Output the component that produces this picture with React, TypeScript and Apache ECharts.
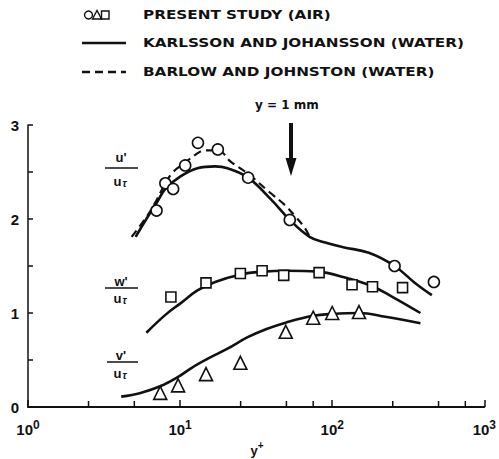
import React, { useEffect, useRef } from "react";
import * as echarts from "echarts";

// ---- data (y+ on log axis, fluctuation ratio on linear axis) ----
const circleX = [7.0, 8.0, 9.0, 10.8, 13.1, 17.7, 28, 52.6, 257, 466];
const circleY = [2.09, 2.38, 2.32, 2.57, 2.81, 2.74, 2.44, 1.99, 1.5, 1.33];

const squareX = [8.7, 14.8, 24.9, 34.6, 48, 82, 135, 184, 290];
const squareY = [1.17, 1.32, 1.42, 1.45, 1.4, 1.43, 1.3, 1.28, 1.27];

const triX = [7.4, 9.7, 14.8, 24.9, 49.5, 75, 100, 150];
const triY = [0.15, 0.23, 0.35, 0.47, 0.8, 0.95, 1.0, 1.01];

const uSolidX = [5.1, 6, 7, 8, 10, 13, 17, 20.5, 28, 40, 52.6, 71, 90, 118, 174, 257, 350, 452];
const uSolidY = [1.81, 2.0, 2.17, 2.32, 2.45, 2.54, 2.56, 2.54, 2.44, 2.2, 1.99, 1.81, 1.75, 1.7, 1.64, 1.5, 1.32, 1.19];

const uDashX = [4.8, 6, 7, 8, 9, 10.8, 12.5, 14.5, 17.7, 21.5, 28, 38.4, 48.7, 57, 65.7, 71];
const uDashY = [1.81, 2.02, 2.2, 2.38, 2.5, 2.6, 2.68, 2.73, 2.73, 2.61, 2.48, 2.29, 2.15, 2.03, 1.91, 1.81];

const wSolidX = [6.0, 8, 10, 13, 17, 25, 35, 50, 80, 120, 180, 250, 380];
const wSolidY = [0.79, 0.98, 1.1, 1.24, 1.33, 1.41, 1.44, 1.45, 1.44, 1.38, 1.29, 1.17, 1.0];

const vSolidX = [4.1, 5.5, 7.4, 9.7, 12, 15.9, 20.5, 27.6, 37, 50, 75, 100, 150, 224, 380];
const vSolidY = [0.11, 0.15, 0.22, 0.32, 0.42, 0.53, 0.62, 0.74, 0.83, 0.9, 0.97, 0.99, 1.0, 0.96, 0.89];

const minorXTicks = [2.5, 5, 25, 50, 75, 250, 500, 750];
const yTickLabels = ["0", "1", "2", "3"];

const legendLabels = [
  "PRESENT STUDY (AIR)",
  "KARLSSON AND JOHANSSON (WATER)",
  "BARLOW AND JOHNSTON (WATER)",
];

const zip = (xs: number[], ys: number[]) => xs.map((x, i) => [x, ys[i]]);

const INK = "#111";
const NUM_FONT = "Liberation Sans";
const TXT_FONT = "DejaVu Sans";

function fraction(top: string, cx: number, yTop: number, yLine: number, yBot: number, x1: number, x2: number) {
  return [
    {
      type: "text",
      x: cx,
      y: yTop,
      style: { text: top, fill: INK, font: `bold 13px "${NUM_FONT}"`, align: "center", verticalAlign: "middle" },
    },
    {
      type: "line",
      shape: { x1, y1: yLine, x2, y2: yLine },
      style: { stroke: INK, lineWidth: 1.5 },
    },
    {
      type: "text",
      x: cx - 1,
      y: yBot,
      style: {
        text: "u{t|τ}",
        fill: INK,
        font: `bold 13px "${NUM_FONT}"`,
        align: "center",
        verticalAlign: "middle",
        rich: { t: { fontSize: 10, fontStyle: "italic", fontWeight: "bold", padding: [5, 0, 0, 1], fill: INK } },
      },
    },
  ];
}

export default function App() {
  const ref = useRef<HTMLDivElement>(null);

  useEffect(() => {
    if (!ref.current) return;
    const chart = echarts.init(ref.current, undefined, { renderer: "svg" });

    const lineCommon = {
      type: "line",
      showSymbol: false,
      smooth: 0.4,
      silent: true,
      z: 2,
    };
    const markerCommon = {
      type: "scatter",
      symbolSize: 11,
      itemStyle: { color: "#ffffff", borderColor: INK, borderWidth: 1.6, opacity: 1 },
      emphasis: { disabled: true },
      z: 5,
    };

    const legendTextStyle = (t: string) => ({
      text: t,
      fill: INK,
      font: `bold 12px "${TXT_FONT}"`,
      verticalAlign: "middle",
    });

    chart.setOption({
      animation: false,
      backgroundColor: "#fff",
      grid: { left: 28, right: 9, top: 125, bottom: 52 },
      xAxis: {
        type: "log",
        logBase: 10,
        min: 1,
        max: 1000,
        axisLine: { lineStyle: { color: INK, width: 2 } },
        axisTick: { inside: true, length: 7, lineStyle: { color: INK, width: 1.5 } },
        splitLine: { show: false },
        axisLabel: {
          margin: 12,
          color: INK,
          fontFamily: NUM_FONT,
          fontSize: 15,
          fontWeight: "bold",
          formatter: (v: number) => `10{s|${Math.round(Math.log10(v))}}`,
          rich: {
            s: { fontSize: 12, fontWeight: "bold", fontFamily: NUM_FONT, color: INK, padding: [0, 0, 9, 0] },
          },
        },
      },
      yAxis: {
        type: "value",
        min: 0,
        max: 3,
        interval: 0.5,
        axisLine: { show: true, lineStyle: { color: INK, width: 1.5 } },
        axisTick: { show: true, inside: true, length: 5, lineStyle: { color: INK, width: 1.5 } },
        splitLine: { show: false },
        axisLabel: {
          margin: 9,
          color: INK,
          fontFamily: NUM_FONT,
          fontSize: 15,
          fontWeight: "bold",
          formatter: (v: number) => (Number.isInteger(v) ? yTickLabels[v] : ""),
        },
      },
      series: [
        { ...lineCommon, data: zip(uSolidX, uSolidY), lineStyle: { color: INK, width: 2.6 } },
        { ...lineCommon, data: zip(uDashX, uDashY), lineStyle: { color: INK, width: 2.2, type: [8, 5] } },
        { ...lineCommon, data: zip(wSolidX, wSolidY), lineStyle: { color: INK, width: 2.6 } },
        { ...lineCommon, data: zip(vSolidX, vSolidY), lineStyle: { color: INK, width: 2.6 } },
        { ...markerCommon, symbol: "circle", data: zip(circleX, circleY) },
        { ...markerCommon, symbol: "rect", symbolSize: 10, data: zip(squareX, squareY) },
        { ...markerCommon, symbol: "triangle", symbolSize: 13, data: zip(triX, triY) },
        {
          type: "custom",
          silent: true,
          clip: false,
          z: 3,
          data: minorXTicks.map((v) => [v, 0]),
          renderItem: (_p: any, api: any) => {
            const pt = api.coord([api.value(0), 0]);
            return {
              type: "line",
              shape: { x1: pt[0], y1: pt[1], x2: pt[0], y2: pt[1] - 6 },
              style: { stroke: INK, lineWidth: 1.5 },
            };
          },
        },
      ],
      graphic: [
        // legend
        { type: "circle", shape: { cx: 88.5, cy: 15, r: 4 }, style: { fill: "#fff", stroke: INK, lineWidth: 1.4 } },
        {
          type: "polygon",
          shape: { points: [[97, 10.5], [92.5, 19], [101.5, 19]] },
          style: { fill: "#fff", stroke: INK, lineWidth: 1.4 },
        },
        { type: "rect", shape: { x: 101.5, y: 11, width: 7.5, height: 8 }, style: { fill: "#fff", stroke: INK, lineWidth: 1.4 } },
        { type: "text", x: 143, y: 15, scaleX: 1.27, style: legendTextStyle(legendLabels[0]) },
        { type: "line", shape: { x1: 82, y1: 43, x2: 126, y2: 43 }, style: { stroke: INK, lineWidth: 2.6 } },
        { type: "text", x: 143, y: 43, scaleX: 1.27, style: legendTextStyle(legendLabels[1]) },
        {
          type: "line",
          shape: { x1: 82, y1: 72, x2: 126, y2: 72 },
          style: { stroke: INK, lineWidth: 2.4, lineDash: [8, 5] },
        },
        { type: "text", x: 143, y: 72, scaleX: 1.27, style: legendTextStyle(legendLabels[2]) },
        // arrow annotation
        {
          type: "text",
          x: 287,
          y: 105,
          style: { text: "y = 1 mm", fill: INK, font: `bold 12px "${TXT_FONT}"`, align: "center", verticalAlign: "middle" },
        },
        { type: "line", shape: { x1: 291, y1: 123, x2: 291, y2: 162 }, style: { stroke: INK, lineWidth: 4 } },
        {
          type: "polygon",
          shape: { points: [[285.5, 158], [296.5, 158], [291, 176]] },
          style: { fill: INK },
        },
        // fraction labels
        ...fraction("u'", 121, 157, 168, 181, 105, 138),
        ...fraction("w'", 121, 281, 288, 298, 105, 138),
        ...fraction("v'", 121, 355, 362, 373, 107, 138),
        // x axis name
        {
          type: "text",
          x: 257,
          y: 450,
          style: {
            text: "y{s|+}",
            fill: INK,
            font: `bold 13px "${NUM_FONT}"`,
            align: "center",
            verticalAlign: "middle",
            rich: { s: { fontSize: 10, fontWeight: "bold", padding: [0, 0, 9, 0], fill: INK } },
          },
        },
      ],
    });

    return () => chart.dispose();
  }, []);

  return (
    <div
      ref={ref}
      style={{ position: "fixed", left: 0, top: 0, width: 499, height: 459, background: "#fff" }}
    />
  );
}
